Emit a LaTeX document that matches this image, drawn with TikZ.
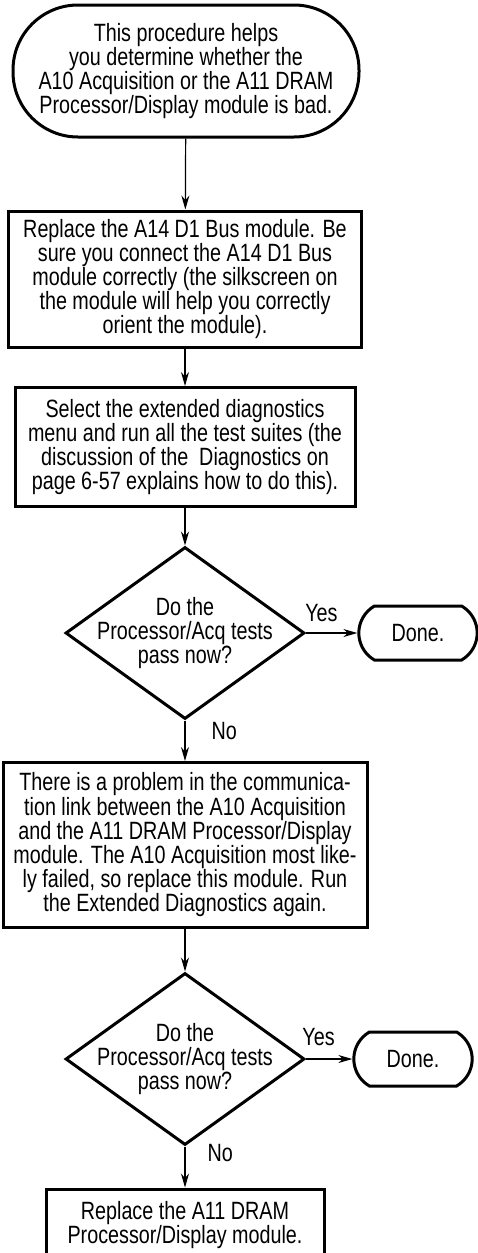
\documentclass[tikz,border=0pt]{standalone}
\usepackage{fontspec}
\setmainfont{Liberation Sans}[FakeStretch=0.79]
\usetikzlibrary{shapes.geometric,shapes.misc,arrows.meta}

\begin{document}
\begin{tikzpicture}[x=1pt,y=-1pt,
    every node/.style={font=\fontsize{25}{24.2}\selectfont},
    procbox/.style={draw,line width=3pt,align=center,inner sep=0pt},
    startcap/.style={procbox,rounded corners=65pt},
    decision/.style={draw,diamond,line width=3pt,align=center,inner sep=-20pt,
        minimum width=239pt,minimum height=172pt},
    donecap/.style={draw,rounded rectangle,rounded rectangle arc length=120,
        line width=3pt,minimum width=125pt,minimum height=54pt},
    flow/.style={-{Stealth[length=14pt,width=8pt]},line width=1.2pt},
    lbl/.style={inner sep=2pt}]
    \useasboundingbox (0,0) rectangle (478,1253);

    \node[startcap,minimum width=346pt,minimum height=132pt] (start) at (186,71)
        {This procedure helps\\you determine whether the\\A10 Acquisition or the A11 DRAM\\Processor/Display module is bad.};
    \node[procbox,minimum width=353pt,minimum height=136pt] (bus) at (185,279)
        {Replace the A14 D1 Bus module. Be\\sure you connect the A14 D1 Bus\\module correctly (the silkscreen on\\the module will help you correctly\\orient the module).};
    \node[procbox,minimum width=340pt,minimum height=119pt] (diag) at (185,447)
        {Select the extended diagnostics\\menu and run all the test suites (the\\discussion of the~ Diagnostics on\\page 6-57 explains how to do this).};
    \node[decision] (pass1) at (185,633) {Do the\\Processor/Acq tests\\pass now?};
    \node[donecap] (done1) at (418,633) {Done.};
    \node[procbox,minimum width=364pt,minimum height=165pt] (acq) at (185,845)
        {There is a problem in the communica-\\tion link between the A10 Acquisition\\and the A11 DRAM Processor/Display\\module. The A10 Acquisition most like-\\ly failed, so replace this module. Run\\the Extended Diagnostics again.};
    \node[decision] (pass2) at (185,1059) {Do the\\Processor/Acq tests\\pass now?};
    \node[donecap] (done2) at (413,1059) {Done.};
    \node[procbox,minimum width=278pt,minimum height=72pt] (dram) at (185,1225)
        {Replace the A11 DRAM\\Processor/Display module.};

    % connectors
    \draw[flow] (start) -- (bus);
    \draw[flow] (bus) -- (diag);
    \draw[flow] (diag) -- (pass1);
    \draw[flow] (pass1) -- node[lbl,above=9pt,pos=0.3] {Yes} (done1);
    \draw[flow] (pass1) -- node[lbl,right=24pt,pos=0.27] {No} (acq);
    \draw[flow] (acq) -- (pass2);
    \draw[flow] (pass2) -- node[lbl,above=11pt,pos=0.27] {Yes} (done2);
    \draw[flow] (pass2) -- node[lbl,right=20pt,pos=0.15] {No} (dram);
\end{tikzpicture}
\end{document}
